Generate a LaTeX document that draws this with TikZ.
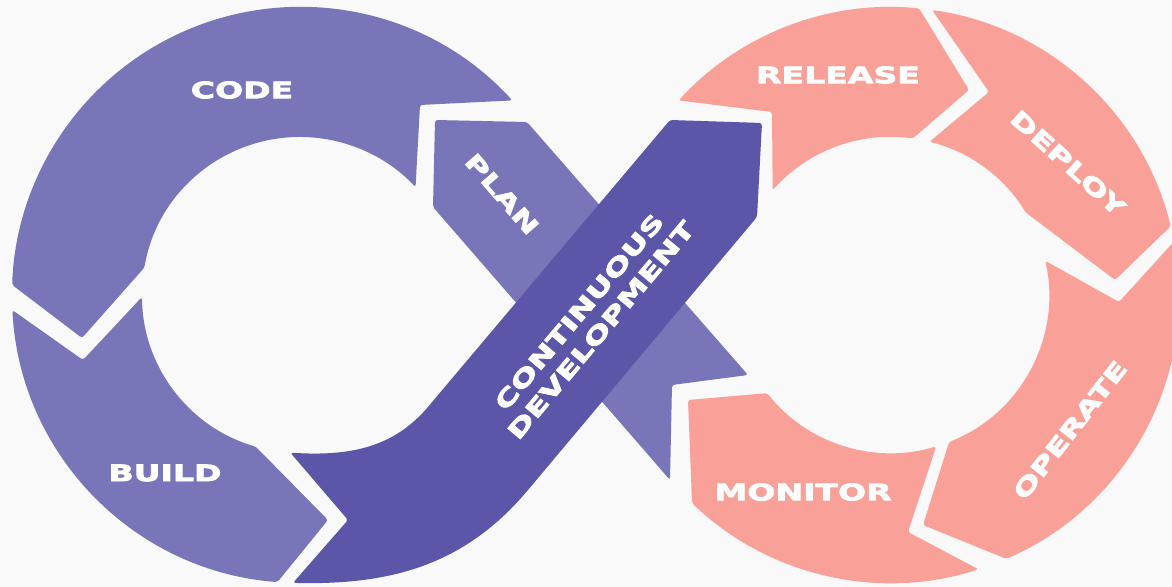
\documentclass[tikz,border=0pt]{standalone}
\usepackage{fontspec}
\usepackage{tikz}
\usetikzlibrary{calc}
\newfontfamily\stagefont{DejaVu Sans}[FakeStretch=1.46,FakeBold=3.5]
\definecolor{paper}{RGB}{249,249,250}
\definecolor{ringlight}{RGB}{120,118,184}
\definecolor{ringdark}{RGB}{91,86,168}
\definecolor{ringsalmon}{RGB}{249,161,152}

\begin{document}
\begin{tikzpicture}[x=0.02cm,y=0.02cm,
  seg/.style={rounded corners=1.5pt},
  stage/.style={text=white,inner sep=0pt,align=center,
    font=\stagefont\bfseries\fontsize{12.9}{16.2}\selectfont}]
 \useasboundingbox (0,0) rectangle (1172,587);
 \fill[paper] (0,0) rectangle (1172,587);
 \coordinate (LC) at (300,292);
 \coordinate (RC) at (891,292);

 % plan band, under the development band
 \fill[ringlight,seg] (435,467) -- (527,465) -- (748,212) -- (672,202)
  -- (670,107) -- (433,380) -- cycle;

 % left loop: code, build
 \fill[ringlight,seg] ($(LC)+(42.5:288)$) arc[start angle=42.5,end angle=178,radius=288]
  -- (82,249) -- ($(LC)+(170:158)$) arc[start angle=170,end angle=43,radius=158]
  -- (420,482) -- cycle;
 \fill[ringlight,seg] (83,227) -- ($(LC)+(183:288)$) arc[start angle=183,end angle=265.5,radius=288]
  -- (328,67) -- ($(LC)+(253.7:158)$) arc[start angle=253.7,end angle=180.7,radius=158]
  -- cycle;

 % continuous development band
 \fill[ringdark,seg] (348,67) -- ($(LC)+(268.6:288)$) to[out=-1.4,in=230] ($(LC)+(-40:300)$)
  -- (757,370) -- (762,464) -- (670,467) -- ($(LC)+(-40:170)$)
  to[out=230,in=-3.5] ($(LC)+(266.5:158)$) -- cycle;

 % right loop: release, deploy, operate, monitor
 \fill[ringsalmon,seg] ($(RC)+(137.5:288)$) arc[start angle=137.5,end angle=84.4,radius=288]
  -- (969,497) -- ($(RC)+(82.1:158)$) arc[start angle=82.1,end angle=138.5,radius=158]
  -- (772,475) -- cycle;
 \fill[ringsalmon,seg] (989,495) -- ($(RC)+(81.8:288)$) arc[start angle=81.8,end angle=13.8,radius=288]
  -- (1115,307) -- ($(RC)+(31.5:158)$) arc[start angle=31.5,end angle=75.9,radius=158]
  -- cycle;
 \fill[ringsalmon,seg] (1119,285) -- ($(RC)+(10.7:288)$) arc[start angle=10.7,end angle=-66.4,radius=288]
  -- (923,62) -- ($(RC)+(-68.4:158)$) arc[start angle=-68.4,end angle=12.5,radius=158]
  -- cycle;
 \fill[ringsalmon,seg] (908,55) -- ($(RC)+(-72.3:288)$) arc[start angle=-72.3,end angle=-133.7,radius=288]
  -- (688,187) -- ($(RC)+(-141.6:158)$) arc[start angle=-141.6,end angle=-73.4,radius=158]
  -- cycle;

 \node[stage] (code) at (242,497) {CODE};
 \node[stage] (build) at (165,114) {BUILD};
 \node[stage,rotate=-49] (plan) at (502,393) {PLAN};
 \node[stage,rotate=50] (dev) at (590,266) {CONTINUOUS\\DEVELOPMENT};
 \node[stage] (release) at (838,512) {RELEASE};
 \node[stage,rotate=-42] (deploy) at (1068,424) {DEPLOY};
 \node[stage,rotate=52] (operate) at (1070,157) {OPERATE};
 \node[stage] (monitor) at (803,95) {MONITOR};
\end{tikzpicture}
\end{document}
